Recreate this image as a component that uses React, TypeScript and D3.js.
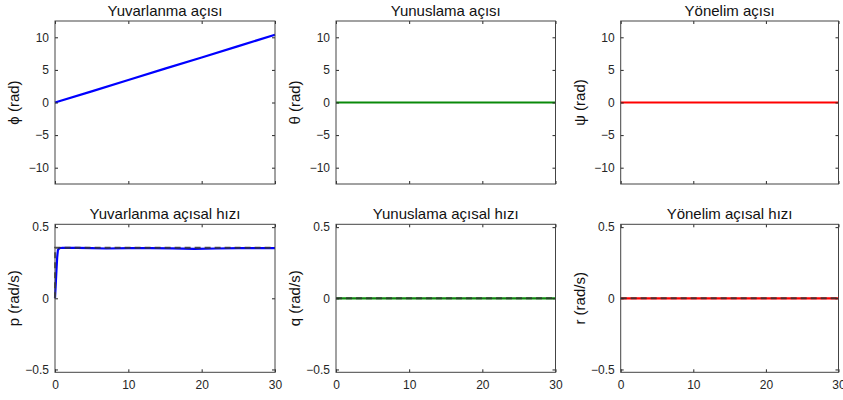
import React, { useRef, useEffect } from "react";
import * as d3 from "d3";

// time grids
const timeAngle = [0, 5, 10, 15, 20, 25, 30];
const timeRate = [0, 0.1, 0.2, 0.3, 0.4, 0.6, 1, 3, 5, 7, 10, 13, 16, 19, 22, 25, 28, 30];
const timeRef = [0, 0.02, 30];

// angles (rad)
const rollAngle = [0, 1.7, 3.45, 5.2, 6.9, 8.65, 10.4];
const pitchAngle = [0, 0, 0, 0, 0, 0, 0];
const yawAngle = [0, 0, 0, 0, 0, 0, 0];

// angular rates (rad/s)
const rollRate = [0, 0.1, 0.2, 0.29, 0.34, 0.352, 0.355, 0.354, 0.352, 0.35, 0.352, 0.353, 0.351, 0.348, 0.35, 0.352, 0.352, 0.352];
const pitchRate = timeRate.map(() => 0);
const yawRate = timeRate.map(() => 0);
const rollRateRef = [0, 0.355, 0.355];
const pitchRateRef = [0, 0, 0];
const yawRateRef = [0, 0, 0];

const titles = [
  "Yuvarlanma açısı", "Yunuslama açısı", "Yönelim açısı",
  "Yuvarlanma açısal hızı", "Yunuslama açısal hızı", "Yönelim açısal hızı",
];
const yLabels = ["ϕ (rad)", "θ (rad)", "ψ (rad)", "p (rad/s)", "q (rad/s)", "r (rad/s)"];
const colors = ["#0000ff", "#0a8a0a", "#ff0000"];

const xTicks = [0, 10, 20, 30];
const angleTicks = [-10, -5, 0, 5, 10];
const rateTicks = [-0.5, 0, 0.5];

const cols = [[55, 275], [336, 555.5], [620.7, 838.5]];
const rows = [[21, 184], [224.3, 372.3]];

const App = () => {
  const svgRef = useRef(null);

  useEffect(() => {
    const svg = d3.select(svgRef.current);
    svg.selectAll("*").remove();
    const font = "'Liberation Sans', Arial, sans-serif";
    const ink = "#262626";

    const panels = [
      { t: timeAngle, v: rollAngle },
      { t: timeAngle, v: pitchAngle },
      { t: timeAngle, v: yawAngle },
      { t: timeRate, v: rollRate, rv: rollRateRef },
      { t: timeRate, v: pitchRate, rv: pitchRateRef },
      { t: timeRate, v: yawRate, rv: yawRateRef },
    ];

    panels.forEach((p, i) => {
      const r = Math.floor(i / 3), c = i % 3;
      const [x0, x1] = cols[c];
      const [y0, y1] = rows[r];
      const x = d3.scaleLinear().domain([0, 30]).range([x0, x1]);
      const y = r === 0
        ? d3.scaleLinear().domain([-12.5, 12.5]).range([y1, y0])
        : d3.scaleLinear().domain([-0.52, 0.52]).range([y1, y0]);
      const yt = r === 0 ? angleTicks : rateTicks;
      const g = svg.append("g");

      g.append("rect").attr("x", x0).attr("y", y0)
        .attr("width", x1 - x0).attr("height", y1 - y0)
        .attr("fill", "#fff");

      const line = d3.line<number>().x((_, k) => x(p.t[k])).y(d => y(d));
      g.append("path").datum(p.v).attr("d", line)
        .attr("fill", "none").attr("stroke", colors[c]).attr("stroke-width", 2.2);

      if (p.rv) {
        const rline = d3.line<number>().x((_, k) => x(timeRef[k])).y(d => y(d));
        g.append("path").datum(p.rv).attr("d", rline)
          .attr("fill", "none").attr("stroke", "#333").attr("stroke-opacity", 0.85)
          .attr("stroke-width", 2).attr("stroke-dasharray", "6,4");
      }

      const style = (a) => {
        a.select(".domain").remove();
        a.selectAll("line").attr("stroke", ink);
        a.selectAll("text").attr("fill", ink).style("font-family", font).style("font-size", "12px");
      };

      g.append("g").attr("transform", `translate(${x0},0)`)
        .call(d3.axisLeft(y).tickValues(yt).tickSize(-3).tickPadding(6).tickFormat(d3.format("")))
        .call(style);
      g.append("g").attr("transform", `translate(${x1},0)`)
        .call(d3.axisRight(y).tickValues(yt).tickSize(-3).tickFormat(() => ""))
        .call(style);
      g.append("g").attr("transform", `translate(0,${y0})`)
        .call(d3.axisTop(x).tickValues(xTicks).tickSize(-3).tickFormat(() => ""))
        .call(style);
      g.append("g").attr("transform", `translate(0,${y1})`)
        .call(d3.axisBottom(x).tickValues(xTicks).tickSize(-3).tickPadding(8)
          .tickFormat(r === 1 ? d3.format("") : () => ""))
        .call(style);

      g.append("rect").attr("x", x0).attr("y", y0)
        .attr("width", x1 - x0).attr("height", y1 - y0)
        .attr("fill", "none").attr("stroke", "#444").attr("stroke-width", 1);

      g.append("text").attr("x", (x0 + x1) / 2).attr("y", y0 - 5)
        .attr("text-anchor", "middle").attr("fill", "#111")
        .style("font-family", font).style("font-size", "15px")
        .text(titles[i]);

      g.append("text")
        .attr("transform", `translate(${x0 - 36},${(y0 + y1) / 2}) rotate(-90)`)
        .attr("text-anchor", "middle").attr("fill", "#111")
        .style("font-family", font).style("font-size", "15px")
        .text(yLabels[i]);
    });
  }, []);

  return (
    <div style={{ position: "absolute", left: 0, top: 0 }}>
      <svg ref={svgRef} width={843} height={400} style={{ display: "block", background: "#fff" }} />
    </div>
  );
};

export default App;
